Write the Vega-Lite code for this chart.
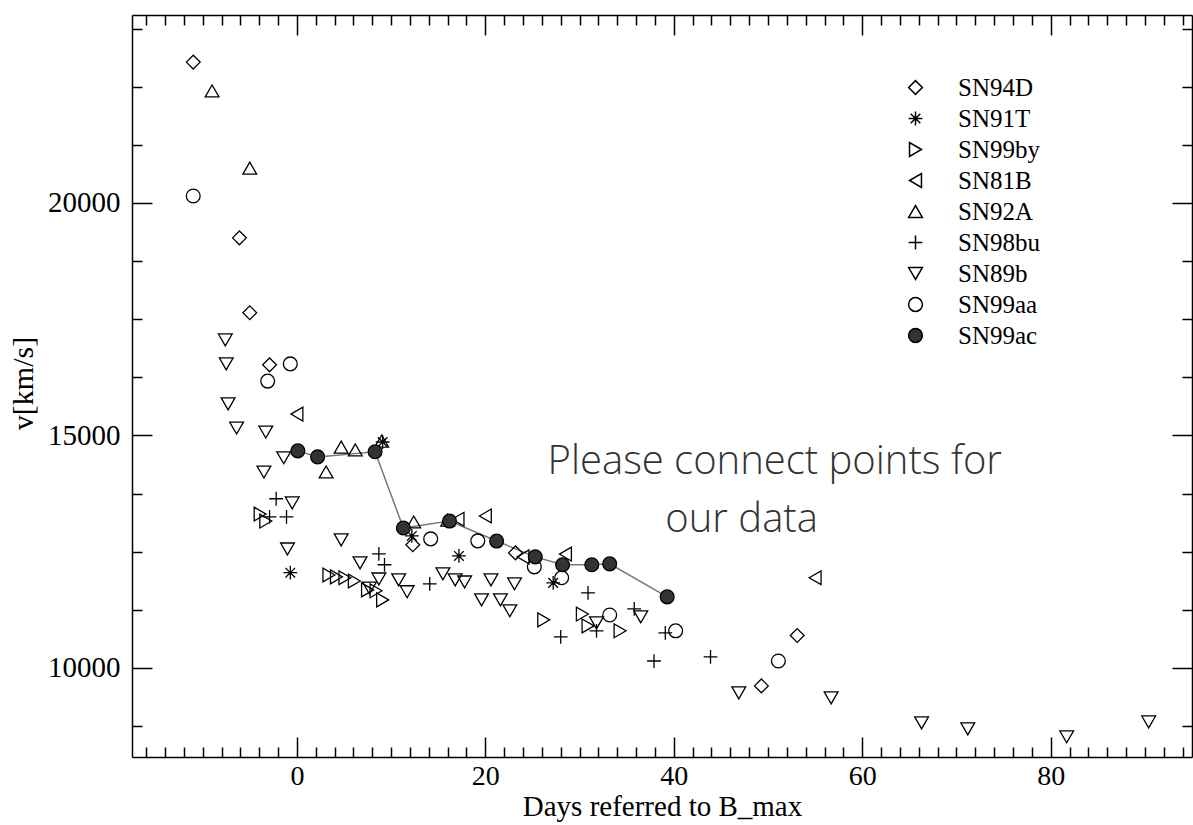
{
 "$schema": "https://vega.github.io/schema/vega-lite/v6.json",
 "width": 1060, "height": 742,
 "autosize": {"type": "none"},
 "padding": {"left": 132, "top": 15, "right": 1, "bottom": 68},
 "background": "white",
 "config": {"view": {"stroke": null}, "font": "Liberation Serif"},
 "datasets": {
  "sn": [
   {"series":"SN94D","day":-11.0,"v":23030},{"series":"SN94D","day":-6.1,"v":19250},{"series":"SN94D","day":-5.0,"v":17640},{"series":"SN94D","day":-2.9,"v":16520},{"series":"SN94D","day":12.3,"v":12650},{"series":"SN94D","day":23.2,"v":12475},{"series":"SN94D","day":49.3,"v":9615},{"series":"SN94D","day":53.1,"v":10700},
   {"series":"SN91T","day":-0.7,"v":12050},{"series":"SN91T","day":9.1,"v":14860},{"series":"SN91T","day":12.2,"v":12840},{"series":"SN91T","day":17.2,"v":12410},{"series":"SN91T","day":27.2,"v":11830},
   {"series":"SN99by","day":-3.9,"v":13310},{"series":"SN99by","day":-3.3,"v":13160},{"series":"SN99by","day":3.4,"v":12000},{"series":"SN99by","day":4.2,"v":11960},{"series":"SN99by","day":5.1,"v":11940},{"series":"SN99by","day":6.1,"v":11870},{"series":"SN99by","day":7.5,"v":11680},{"series":"SN99by","day":8.4,"v":11660},{"series":"SN99by","day":9.1,"v":11465},{"series":"SN99by","day":26.2,"v":11035},{"series":"SN99by","day":30.3,"v":11160},{"series":"SN99by","day":30.9,"v":10905},{"series":"SN99by","day":34.3,"v":10800},
   {"series":"SN81B","day":0.0,"v":15460},{"series":"SN81B","day":17.1,"v":13200},{"series":"SN81B","day":20.0,"v":13270},{"series":"SN81B","day":24.0,"v":12390},{"series":"SN81B","day":28.5,"v":12450},{"series":"SN81B","day":55.0,"v":11940},
   {"series":"SN92A","day":-9.0,"v":22410},{"series":"SN92A","day":-5.0,"v":20750},{"series":"SN92A","day":3.1,"v":14215},{"series":"SN92A","day":4.7,"v":14750},{"series":"SN92A","day":6.2,"v":14690},{"series":"SN92A","day":9.0,"v":14880},{"series":"SN92A","day":12.4,"v":13140},{"series":"SN92A","day":16.0,"v":13180},
   {"series":"SN98bu","day":-2.9,"v":13250},{"series":"SN98bu","day":-2.2,"v":13640},{"series":"SN98bu","day":-1.1,"v":13250},{"series":"SN98bu","day":8.7,"v":12455},{"series":"SN98bu","day":9.3,"v":12220},{"series":"SN98bu","day":14.1,"v":11810},{"series":"SN98bu","day":28.0,"v":10670},{"series":"SN98bu","day":30.9,"v":11615},{"series":"SN98bu","day":31.8,"v":10800},{"series":"SN98bu","day":35.8,"v":11270},{"series":"SN98bu","day":37.9,"v":10150},{"series":"SN98bu","day":39.1,"v":10755},{"series":"SN98bu","day":43.9,"v":10240},
   {"series":"SN89b","day":-7.6,"v":17055},{"series":"SN89b","day":-7.5,"v":16540},{"series":"SN89b","day":-7.3,"v":15680},{"series":"SN89b","day":-6.4,"v":15160},{"series":"SN89b","day":-3.3,"v":15075},{"series":"SN89b","day":-3.5,"v":14215},{"series":"SN89b","day":-1.4,"v":14520},{"series":"SN89b","day":-0.5,"v":13550},{"series":"SN89b","day":-1.0,"v":12560},{"series":"SN89b","day":4.7,"v":12755},{"series":"SN89b","day":6.7,"v":12260},{"series":"SN89b","day":7.7,"v":11720},{"series":"SN89b","day":8.7,"v":11915},{"series":"SN89b","day":10.8,"v":11895},{"series":"SN89b","day":11.7,"v":11640},{"series":"SN89b","day":15.5,"v":12025},{"series":"SN89b","day":16.8,"v":11895},{"series":"SN89b","day":17.8,"v":11850},{"series":"SN89b","day":19.6,"v":11465},{"series":"SN89b","day":20.6,"v":11895},{"series":"SN89b","day":21.6,"v":11465},{"series":"SN89b","day":22.6,"v":11230},{"series":"SN89b","day":23.1,"v":11810},{"series":"SN89b","day":31.8,"v":10970},{"series":"SN89b","day":36.5,"v":11100},{"series":"SN89b","day":46.9,"v":9465},{"series":"SN89b","day":56.7,"v":9357},{"series":"SN89b","day":66.3,"v":8820},{"series":"SN89b","day":71.2,"v":8690},{"series":"SN89b","day":81.7,"v":8520},{"series":"SN89b","day":90.4,"v":8840},
   {"series":"SN99aa","day":-11.0,"v":20150},{"series":"SN99aa","day":-3.1,"v":16170},{"series":"SN99aa","day":-0.7,"v":16540},{"series":"SN99aa","day":14.2,"v":12776},{"series":"SN99aa","day":19.2,"v":12733},{"series":"SN99aa","day":25.2,"v":12175},{"series":"SN99aa","day":28.1,"v":11940},{"series":"SN99aa","day":33.2,"v":11140},{"series":"SN99aa","day":40.2,"v":10800},{"series":"SN99aa","day":51.1,"v":10150},
   {"series":"SN99ac","day":0.1,"v":14670},{"series":"SN99ac","day":2.2,"v":14540},{"series":"SN99ac","day":8.3,"v":14650},{"series":"SN99ac","day":11.3,"v":13010},{"series":"SN99ac","day":16.2,"v":13160},{"series":"SN99ac","day":21.2,"v":12730},{"series":"SN99ac","day":25.3,"v":12390},{"series":"SN99ac","day":28.2,"v":12220},{"series":"SN99ac","day":31.3,"v":12220},{"series":"SN99ac","day":33.2,"v":12240},{"series":"SN99ac","day":39.3,"v":11530}
  ],
  "notes": [
   {"day": 26.6, "v": 14430, "label": "Please connect points for"},
   {"day": 39.1, "v": 13180, "label": "our data"}
  ]
 },
 "resolve": {"axis": {"x": "independent", "y": "independent"}},
 "layer": [
  {
   "data": {"name": "sn"},
   "transform": [{"filter": "datum.series === 'SN99ac'"}],
   "mark": {"type": "line", "color": "#777777", "strokeWidth": 1.5},
   "encoding": {
    "x": {"field": "day", "type": "quantitative", "scale": {"domain": [-17.5, 95], "nice": false, "zero": false},
     "axis": {"orient": "bottom", "values": [0, 20, 40, 60, 80], "tickSize": -20, "tickWidth": 1.5, "tickColor": "black", "domainColor": "black", "domainWidth": 1.5, "labelPadding": 25, "labelFont": "Liberation Serif", "labelFontSize": 28, "labelColor": "black", "labelFlush": false, "labelOverlap": false, "grid": false, "title": "Days referred to B_max", "titleFont": "Liberation Serif", "titleFontSize": 29, "titleFontWeight": "normal", "titleColor": "black", "titleY": 58, "titleBaseline": "alphabetic"}},
    "y": {"field": "v", "type": "quantitative", "scale": {"domain": [8086, 24043], "nice": false, "zero": false},
     "axis": {"orient": "left", "values": [10000, 15000, 20000], "format": "d", "tickSize": -20, "tickWidth": 1.5, "tickColor": "black", "domainColor": "black", "domainWidth": 1.5, "labelPadding": 32, "labelFont": "Liberation Serif", "labelFontSize": 29, "labelColor": "black", "labelFlush": false, "grid": false, "title": "v[km/s]", "titleFont": "Liberation Serif", "titleFontSize": 30, "titleFontWeight": "normal", "titleColor": "black", "titleX": -109, "titleY": 368, "titleBaseline": "middle"}}
   }
  },
  {
   "data": {"name": "sn"},
   "mark": {"type": "point", "filled": true, "stroke": "black", "strokeWidth": 1.3, "size": 190, "opacity": 1},
   "encoding": {
    "x": {"field": "day", "type": "quantitative", "scale": {"domain": [-17.5, 95], "nice": false, "zero": false},
     "axis": {"orient": "bottom", "values": [-16,-14,-12,-10,-8,-6,-4,-2,2,4,6,8,10,12,14,16,18,22,24,26,28,30,32,34,36,38,42,44,46,48,50,52,54,56,58,62,64,66,68,70,72,74,76,78,82,84,86,88,90,92,94], "tickSize": -10, "tickWidth": 1.5, "tickColor": "black", "labels": false, "domain": false, "grid": false, "title": null}},
    "y": {"field": "v", "type": "quantitative", "scale": {"domain": [8086, 24043], "nice": false, "zero": false},
     "axis": {"orient": "left", "values": [8750, 11250, 12500, 13750, 16250, 17500, 18750, 21250, 22500, 23750], "tickSize": -10, "tickWidth": 1.5, "tickColor": "black", "labels": false, "domain": false, "grid": false, "title": null}},
    "shape": {"field": "series", "type": "nominal",
     "scale": {"domain": ["SN94D","SN91T","SN99by","SN81B","SN92A","SN98bu","SN89b","SN99aa","SN99ac"],
      "range": ["diamond", "M-1,0L1,0M0,-1L0,1M-0.7,-0.7L0.7,0.7M-0.7,0.7L0.7,-0.7", "triangle-right", "triangle-left", "triangle-up", "M-1,0L1,0M0,-1L0,1", "triangle-down", "circle", "circle"]},
     "legend": {"orient": "none", "legendX": 771, "legendY": 60, "title": null, "padding": 0, "labelFont": "Liberation Serif", "labelFontSize": 25, "labelColor": "black", "labelOffset": 30, "rowPadding": 5, "symbolSize": 190,
      "encode": {"symbols": {"update": {"stroke": {"value": "black"}, "strokeWidth": {"value": 1.3}}}}}},
    "fill": {"field": "series", "type": "nominal",
     "scale": {"domain": ["SN94D","SN91T","SN99by","SN81B","SN92A","SN98bu","SN89b","SN99aa","SN99ac"],
      "range": ["transparent","transparent","transparent","transparent","transparent","transparent","transparent","transparent","#333333"]},
     "legend": {"orient": "none", "legendX": 771, "legendY": 60, "title": null, "padding": 0, "labelFont": "Liberation Serif", "labelFontSize": 25, "labelColor": "black", "labelOffset": 30, "rowPadding": 5, "symbolSize": 190,
      "encode": {"symbols": {"update": {"stroke": {"value": "black"}, "strokeWidth": {"value": 1.3}}}}}}
   }
  },
  {
   "data": {"name": "sn"},
   "mark": {"type": "point", "opacity": 0},
   "encoding": {
    "x": {"field": "day", "type": "quantitative", "scale": {"domain": [-17.5, 95], "nice": false, "zero": false},
     "axis": {"orient": "top", "values": [0, 20, 40, 60, 80], "tickSize": -20, "tickWidth": 1.5, "tickColor": "black", "domainColor": "black", "domainWidth": 1.5, "labels": false, "grid": false, "title": null}},
    "y": {"field": "v", "type": "quantitative", "scale": {"domain": [8086, 24043], "nice": false, "zero": false},
     "axis": {"orient": "right", "values": [10000, 15000, 20000], "tickSize": -20, "tickWidth": 1.5, "tickColor": "black", "domainColor": "black", "domainWidth": 1.5, "labels": false, "grid": false, "title": null}}
   }
  },
  {
   "data": {"name": "sn"},
   "mark": {"type": "point", "opacity": 0},
   "encoding": {
    "x": {"field": "day", "type": "quantitative", "scale": {"domain": [-17.5, 95], "nice": false, "zero": false},
     "axis": {"orient": "top", "values": [-16,-14,-12,-10,-8,-6,-4,-2,2,4,6,8,10,12,14,16,18,22,24,26,28,30,32,34,36,38,42,44,46,48,50,52,54,56,58,62,64,66,68,70,72,74,76,78,82,84,86,88,90,92,94], "tickSize": -10, "tickWidth": 1.5, "tickColor": "black", "labels": false, "domain": false, "grid": false, "title": null}},
    "y": {"field": "v", "type": "quantitative", "scale": {"domain": [8086, 24043], "nice": false, "zero": false},
     "axis": {"orient": "right", "values": [8750, 11250, 12500, 13750, 16250, 17500, 18750, 21250, 22500, 23750], "tickSize": -10, "tickWidth": 1.5, "tickColor": "black", "labels": false, "domain": false, "grid": false, "title": null}}
   }
  },
  {
   "data": {"name": "notes"},
   "mark": {"type": "text", "align": "left", "baseline": "middle", "font": "Open Sans", "fontWeight": 300, "fontSize": 40, "color": "#333333"},
   "encoding": {
    "x": {"field": "day", "type": "quantitative", "scale": {"domain": [-17.5, 95], "nice": false, "zero": false}, "axis": null},
    "y": {"field": "v", "type": "quantitative", "scale": {"domain": [8086, 24043], "nice": false, "zero": false}, "axis": null},
    "text": {"field": "label"}
   }
  }
 ]
}
